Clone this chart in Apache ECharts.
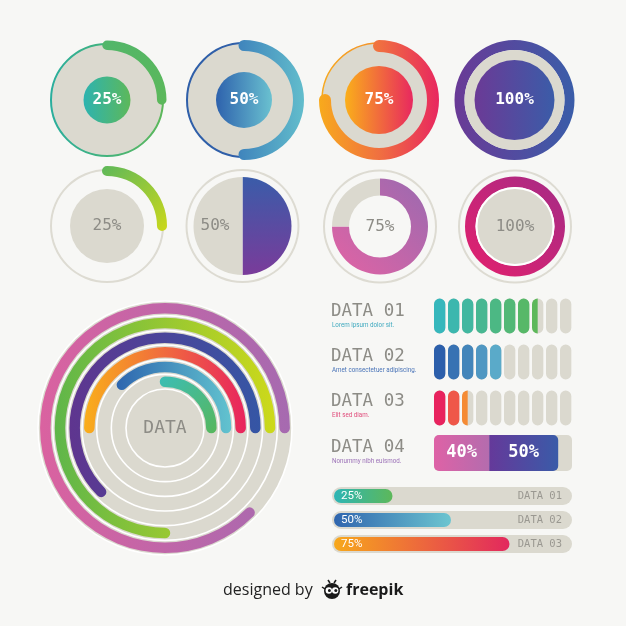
<!DOCTYPE html>
<html><head><meta charset="utf-8">
<script src="https://cdn.jsdelivr.net/npm/echarts@6/dist/echarts.min.js"></script>
<style>html,body{margin:0;padding:0;background:#F7F7F5}#c{width:626px;height:626px}</style>
</head><body><div id="c"></div>
<script>
// ---------- DATA ----------
const topValues = [25, 50, 75, 100];
const lowerValues = [25, 50, 75, 100];
const ringNames = ['R1', 'R2', 'R3', 'R4', 'R5', 'R6'];       // inner -> outer
const ringValues = [25, 37.5, 50, 62.5, 75, 87.5];
const ringCenterText = 'DATA';
const pillRows = ['DATA 01', 'DATA 02', 'DATA 03'];
const pillValues = [75, 50, 25];
const pillCount = 10;
const rowTitles = ['DATA 01', 'DATA 02', 'DATA 03', 'DATA 04'];
const rowNotes = ['Lorem ipsum dolor sit.', 'Amet consectetuer adipiscing.', 'Elit sed diam.', 'Nonummy nibh euismod.'];
const splitCats = ['DATA 04'];
const splitValues = [40, 50];
const barCats = ['DATA 01', 'DATA 02', 'DATA 03'];
const barValues = [25, 50, 75];
const footerText = ['designed by', 'freepik'];

// ---------- STYLE ----------
const BEIGE = '#DBD9CF';
const GRAY = '#8D8C86';
const BG = '#F7F7F5';
const MONO = "'DejaVu Sans Mono', 'Liberation Mono', monospace";
const NARROW = "'Liberation Sans Narrow', 'Roboto', sans-serif";
const lg = (x, y, x2, y2, stops) => ({type: 'linear', x, y, x2, y2,
  colorStops: stops.map((c, i) => ({offset: i / (stops.length - 1), color: c}))});

function disc(center, r0, r, itemStyle, label) {
  return {type: 'pie', center, radius: [r0, r], silent: true, startAngle: 90, animation: false,
    label: label || {show: false}, labelLine: {show: false}, emphasis: {disabled: true},
    data: [{value: 1, itemStyle}]};
}
function lbl(text, color, bold) {
  return {show: true, position: 'center', formatter: text, color, fontFamily: MONO,
    fontSize: 16, fontWeight: bold ? 'bold' : 'normal'};
}
function arc(center, radius, width, value, color, roundCap) {
  return {type: 'gauge', center, radius, startAngle: 90, endAngle: -270, min: 0, max: 100,
    silent: true, animation: false,
    progress: {show: true, width, roundCap: !!roundCap, itemStyle: {color}},
    axisLine: {show: false, lineStyle: {width}}, axisTick: {show: false}, splitLine: {show: false},
    axisLabel: {show: false}, pointer: {show: false}, anchor: {show: false},
    title: {show: false}, detail: {show: false}, data: [{value}]};
}

const series = [];
// ---- Row 1 ----
series.push(disc([107, 100], 0, 56, {color: BEIGE, borderColor: lg(0, 0, 1, 0, ['#2AAE9E', '#5DB85A']), borderWidth: 2}));
series.push(arc([107, 100], 59.5, 9.5, topValues[0], lg(0, 0, 1, 1, ['#52B66A', '#5CB85A']), true));
series.push(disc([107, 100], 0, 23.5, {color: lg(0, 0, 1, 0, ['#2DB3B0', '#5DB85A'])}, lbl(topValues[0] + '%', '#fff', true)));
series.push(disc([244, 100], 0, 57, {color: BEIGE, borderColor: '#2F5FA9', borderWidth: 2}));
series.push(arc([244, 100], 60, 11, topValues[1], lg(0, 0, 1, 0, ['#3F84BC', '#62BDCC']), true));
series.push(disc([244, 100], 0, 28, {color: lg(0, 0, 1, 0, ['#2E62AD', '#6AC1D0'])}, lbl(topValues[1] + '%', '#fff', true)));
series.push(disc([379, 100], 0, 57, {color: BEIGE, borderColor: lg(0, 0, 1, 0, ['#F7A91E', '#EF7A3A']), borderWidth: 1.5}));
series.push(arc([379, 100], 60, 12, topValues[2], lg(0, 0, 1, 0, ['#F8AA1C', '#F07040', '#E8275F']), true));
series.push(disc([379, 100], 0, 34, {color: lg(0, 0, 1, 0, ['#FAAF1A', '#E8285F'])}, lbl(topValues[2] + '%', '#fff', true)));
series.push(disc([514.5, 100], 0, 50, {color: BEIGE}));
series.push(arc([514.5, 100], 60, 10, topValues[3], lg(0, 0, 1, 0, ['#6A3A96', '#3A5DA9']), false));
series.push(disc([514.5, 100], 0, 40, {color: lg(0, 0, 1, 0, ['#6B3A96', '#3B5CA8'])}, lbl(topValues[3] + '%', '#fff', true)));

// ---- Row 2 ----
series.push(disc([107, 226], 55, 57, {color: '#DDDBD2'}));
series.push(disc([107, 226], 0, 37, {color: BEIGE}, lbl(lowerValues[0] + '%', GRAY, false)));
series.push(arc([107, 226], 60, 10, lowerValues[0], lg(0, 0, 1, 1, ['#5DB85A', '#CBD81B']), true));
series.push(disc([242.5, 226], 55, 57, {color: '#DDDBD2'}));
series.push({type: 'pie', center: [242.5, 226], radius: [0, 49], startAngle: 90, silent: true, animation: false,
  labelLine: {show: false}, emphasis: {disabled: true}, label: {show: false},
  data: [
    {value: lowerValues[1], itemStyle: {color: lg(0, 0, 0, 1, ['#3A5CA9', '#7A3B9A'])}},
    {value: 100 - lowerValues[1], itemStyle: {color: BEIGE},
      label: {show: true, position: 'inside', formatter: lowerValues[1] + '%', color: GRAY, fontFamily: MONO, fontSize: 16}}
  ]});
series.push(disc([380, 226.5], 55, 57, {color: '#DDDBD2'}));
series.push({type: 'pie', center: [380, 226.5], radius: [31, 48], startAngle: 90, silent: true, animation: false,
  labelLine: {show: false}, emphasis: {disabled: true}, label: {show: false},
  data: [
    {value: lowerValues[2], itemStyle: {color: lg(1, 0, 0, 1, ['#9A6AB0', '#E263A4'])},
      label: {show: true, position: 'center', formatter: lowerValues[2] + '%', color: GRAY, fontFamily: MONO, fontSize: 16}},
    {value: 100 - lowerValues[2], itemStyle: {color: BEIGE}}
  ]});
series.push(disc([515, 226.5], 55, 57, {color: '#DDDBD2'}));
series.push(arc([515, 226.5], 50, 10.5, lowerValues[3], lg(0, 1, 1, 0, ['#E3206D', '#A52B86']), false));
series.push(disc([515, 226.5], 0, 38.5, {color: BEIGE, borderColor: '#FFFFFF', borderWidth: 2}, lbl(lowerValues[3] + '%', GRAY, false)));

// ---- Big concentric chart ----
const ringColors = [
  lg(0, 0, 1, 1, ['#3CBDB5', '#57B75C']),
  lg(0, 0, 1, 0, ['#2E66AF', '#62C3CF']),
  lg(0, 0, 1, 0, ['#F9AE1B', '#F06A3E', '#E8245E']),
  lg(0, 0, 1, 0, ['#5F358F', '#3556A5']),
  lg(0, 0, 1, 0, ['#5FB64A', '#CDD91A']),
  lg(0, 0, 1, 0, ['#DA62A0', '#A66AB0'])
];
series.push(Object.assign(disc([165, 428], 0, 127, {color: BEIGE},
  {show: true, position: 'center', formatter: ringCenterText, color: GRAY, fontFamily: MONO, fontSize: 18}), {z: -1}));
series.push({type: 'bar', coordinateSystem: 'polar', polarIndex: 0, barWidth: 10.5, roundCap: true,
  silent: true, animation: false,
  data: ringValues.map((v, i) => ({value: v, itemStyle: {color: ringColors[i]}}))});

// ---- Pills ----
const pillStops = [['#36B7BC', '#5DB85A'], ['#2C5FAB', '#5AAAC9'], ['#E8235E', '#F58B34']];
function mix(a, b, t) {
  const pa = [1, 3, 5].map(k => parseInt(a.substr(k, 2), 16));
  const pb = [1, 3, 5].map(k => parseInt(b.substr(k, 2), 16));
  return 'rgb(' + pa.map((v, k) => Math.round(v + (pb[k] - v) * t)).join(',') + ')';
}
const pillData = [];
pillValues.forEach((v, r) => {
  for (let i = 0; i < pillCount; i++) {
    const f = Math.max(0, Math.min(1, v / 100 * pillCount - i));
    pillData.push([i, r, f]);
  }
});
series.push({type: 'custom', xAxisIndex: 0, yAxisIndex: 0, silent: true, animation: false,
  encode: {x: 0, y: 1}, data: pillData,
  renderItem(params, api) {
    const i = api.value(0), row = api.value(1), f = api.value(2);
    const p = api.coord([i, row]);
    const cw = api.size([1, 0])[0];
    const w = cw * 0.81, h = 35;
    const x = p[0], y = p[1] - h / 2;
    const children = [{type: 'rect', shape: {x, y, width: w, height: h, r: w / 2}, style: {fill: BEIGE}}];
    if (f > 0) {
      const n = Math.ceil(pillValues[row] / 100 * pillCount);
      const t = n > 1 ? i / (n - 1) : 0;
      children.push({type: 'rect', shape: {x, y, width: w * f, height: h, r: f >= 1 ? w / 2 : [w / 2, 0, 0, w / 2]},
        style: {fill: mix(pillStops[row][0], pillStops[row][1], t)}});
    }
    return {type: 'group', children};
  }});

// ---- Split bar (DATA 04) ----
const splitColors = [lg(0, 0, 1, 0, ['#DE62A6', '#B46CAE']), lg(0, 0, 1, 0, ['#65399A', '#3A5BA8'])];
splitValues.forEach((v, k) => {
  series.push({type: 'bar', xAxisIndex: 1, yAxisIndex: 1, stack: 'split', barWidth: 36, silent: true, animation: false,
    showBackground: k === 0, backgroundStyle: {color: BEIGE, borderRadius: 5},
    itemStyle: {color: splitColors[k], borderRadius: k === 0 ? [5, 0, 0, 5] : [0, 5, 5, 0]},
    label: {show: true, position: 'inside', formatter: '{c}%', color: '#fff', fontFamily: MONO, fontSize: 17, fontWeight: 'bold'},
    data: [v]});
});

// ---- Horizontal progress bars ----
const barColors = [lg(0, 0, 1, 0, ['#2DB5B5', '#5DB85A']), lg(0, 0, 1, 0, ['#2F65AE', '#6CC5D0']), lg(0, 0, 1, 0, ['#F7A81B', '#E2285E'])];
series.push({type: 'bar', xAxisIndex: 2, yAxisIndex: 2, barWidth: 18, silent: true, animation: false,
  itemStyle: {color: BEIGE, borderRadius: 9},
  label: {show: true, position: 'insideRight', distance: 10, formatter: '{b}', color: '#9A9891', fontFamily: MONO, fontSize: 10.5},
  data: barCats.map(() => 100)});
series.push({type: 'bar', xAxisIndex: 3, yAxisIndex: 3, barWidth: 14, silent: true, animation: false,
  label: {show: true, position: 'insideLeft', distance: 7, formatter: '{c}%', color: '#fff', fontFamily: NARROW, fontSize: 11.5},
  data: barValues.map((v, i) => ({value: v, itemStyle: {color: barColors[i], borderRadius: 7}}))});

// ---- Text graphics ----
const noteColors = ['#3FA9BF', '#4A74B8', '#E04B7A', '#9C72B8'];
const titleY = [311, 356, 401, 447];
const graphic = [];
rowTitles.forEach((t, i) => {
  graphic.push({type: 'text', x: 331, y: titleY[i], style: {text: t, fill: GRAY, font: '17.5px ' + MONO, verticalAlign: 'middle'}});
  graphic.push({type: 'text', x: 332, y: titleY[i] + 14, scaleX: 0.8, style: {text: rowNotes[i], fill: noteColors[i], font: '7.8px ' + NARROW, verticalAlign: 'middle'}});
});
graphic.push({type: 'text', x: 223, y: 590, style: {text: footerText[0], fill: '#222', font: "16px 'Open Sans', sans-serif", verticalAlign: 'middle'}});
graphic.push({type: 'text', x: 346, y: 590, style: {text: footerText[1], fill: '#1a1a1a', font: "bold 16px 'Open Sans', sans-serif", verticalAlign: 'middle'}});
graphic.push({type: 'group', x: 332, y: 591, children: [
  {type: 'circle', shape: {cx: 0, cy: 0, r: 8}, style: {fill: '#1a1a1a'}},
  {type: 'circle', shape: {cx: -3.2, cy: -0.5, r: 3.2}, style: {fill: '#fff'}},
  {type: 'circle', shape: {cx: 3.2, cy: -0.5, r: 3.2}, style: {fill: '#fff'}},
  {type: 'circle', shape: {cx: -2.6, cy: -0.5, r: 1.5}, style: {fill: '#1a1a1a'}},
  {type: 'circle', shape: {cx: 3.8, cy: -0.5, r: 1.5}, style: {fill: '#1a1a1a'}},
  {type: 'line', shape: {x1: -2, y1: -8, x2: -4, y2: -11}, style: {stroke: '#1a1a1a', lineWidth: 1.5}},
  {type: 'line', shape: {x1: 2, y1: -8, x2: 4, y2: -11}, style: {stroke: '#1a1a1a', lineWidth: 1.5}},
  {type: 'line', shape: {x1: -10, y1: -4, x2: -7, y2: -2}, style: {stroke: '#1a1a1a', lineWidth: 1.5}},
  {type: 'line', shape: {x1: 10, y1: -4, x2: 7, y2: -2}, style: {stroke: '#1a1a1a', lineWidth: 1.5}}
]});

const hiddenVal = (min, max) => ({type: 'value', min, max, show: false});
const option = {
  backgroundColor: BG,
  animation: false,
  polar: [{center: [165, 428], radius: [39, 127]}],
  angleAxis: [{polarIndex: 0, type: 'value', min: 0, max: 100, startAngle: 0, clockwise: false,
    axisLine: {show: false}, axisTick: {show: false}, axisLabel: {show: false}, splitLine: {show: false}}],
  radiusAxis: [{polarIndex: 0, type: 'category', data: ringNames, z: 1,
    axisLine: {show: false}, axisTick: {show: false, interval: 0}, axisLabel: {show: false, interval: 0},
    splitLine: {show: true, interval: 0, lineStyle: {color: '#FFFFFF', width: 1.6}}}],
  grid: [
    {left: 434, top: 293, width: 140, height: 138},
    {left: 434, top: 435, width: 138, height: 36},
    {left: 332, top: 484, width: 240, height: 72},
    {left: 334, top: 484, width: 234, height: 72}
  ],
  xAxis: [
    Object.assign(hiddenVal(0, pillCount), {gridIndex: 0}),
    Object.assign(hiddenVal(0, 100), {gridIndex: 1}),
    Object.assign(hiddenVal(0, 100), {gridIndex: 2}),
    Object.assign(hiddenVal(0, 100), {gridIndex: 3})
  ],
  yAxis: [
    {gridIndex: 0, type: 'category', data: pillRows, inverse: true, show: false},
    {gridIndex: 1, type: 'category', data: splitCats, show: false},
    {gridIndex: 2, type: 'category', data: barCats, inverse: true, show: false},
    {gridIndex: 3, type: 'category', data: barCats, inverse: true, show: false}
  ],
  graphic,
  series
};
const chart = echarts.init(document.getElementById('c'), null, {renderer: 'canvas'});
chart.setOption(option);
</script>
</body></html>
